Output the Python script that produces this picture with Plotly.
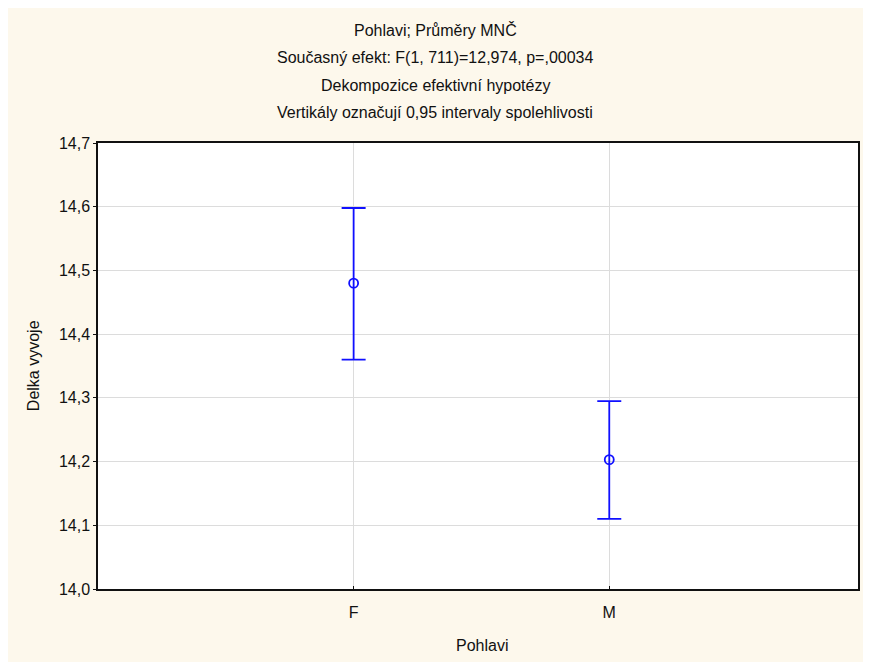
import plotly.graph_objects as go

categories = ["F", "M"]
means = [14.48, 14.203]
upper = [14.598, 14.295]
lower = [14.36, 14.110]
y_ticks = [14.0, 14.1, 14.2, 14.3, 14.4, 14.5, 14.6, 14.7]
title_lines = [
    "Pohlavi; Průměry MNČ",
    "Současný efekt: F(1, 711)=12,974, p=,00034",
    "Dekompozice efektivní hypotézy",
    "Vertikály označují 0,95 intervaly spolehlivosti",
]

# figure is offset by the page's 8px body margin
W, H = 855, 654
L, R, T, B = 90, 852, 135, 581
FONT = "Liberation Sans, Arial, sans-serif"
FS = 16
TXT = "#111111"

err_plus = [u - m for u, m in zip(upper, means)]
err_minus = [m - l for m, l in zip(means, lower)]

fig = go.Figure()
fig.add_trace(go.Scatter(
    x=[0, 1], y=means, mode="markers",
    marker=dict(symbol="circle-open", size=9, color="#1010FF", line=dict(width=1.8, color="#1010FF")),
    error_y=dict(type="data", symmetric=False, array=err_plus, arrayminus=err_minus,
                 color="#1010FF", thickness=1.8, width=12),
    showlegend=False,
))

def py(ypix):
    return (B - ypix) / (B - T)

def px(xpix):
    return (xpix - L) / (R - L)

annotations = []
for i, t in enumerate(title_lines):
    annotations.append(dict(text=t, x=px(428), y=py(22 + i * 27.6), xref="paper", yref="paper",
                            xanchor="center", yanchor="middle", showarrow=False,
                            font=dict(family=FONT, size=FS, color=TXT)))
annotations.append(dict(text="Delka vyvoje", x=px(25), y=py(358), xref="paper", yref="paper",
                        textangle=-90, xanchor="center", yanchor="middle", showarrow=False,
                        font=dict(family=FONT, size=FS, color=TXT)))
annotations.append(dict(text="Pohlavi", x=px(475), y=py(637), xref="paper", yref="paper",
                        xanchor="center", yanchor="middle", showarrow=False,
                        font=dict(family=FONT, size=FS, color=TXT)))

fig.update_layout(
    width=W, height=H,
    margin=dict(l=L, r=W - R, t=T, b=H - B, pad=0),
    paper_bgcolor="#FDF8EC",
    plot_bgcolor="white",
    separators=", ",
    annotations=annotations,
)
fig.update_xaxes(
    range=[-1, 1.973], tickvals=[0, 1], ticktext=categories,
    showgrid=True, gridcolor="#DCDCDC", gridwidth=1,
    showline=True, linecolor="#111", linewidth=1.5, mirror=True,
    ticks="inside", ticklen=3, tickcolor="#111", ticklabelstandoff=8,
    tickfont=dict(family=FONT, size=FS, color=TXT), zeroline=False,
)
fig.update_yaxes(
    range=[14.0, 14.7], tickvals=y_ticks, tickformat=".1f",
    showgrid=True, gridcolor="#DCDCDC", gridwidth=1,
    showline=True, linecolor="#111", linewidth=1.5, mirror=True,
    ticks="outside", ticklen=3, tickcolor="#111",
    tickfont=dict(family=FONT, size=FS, color=TXT), zeroline=False,
)
fig.write_html("out.html")
